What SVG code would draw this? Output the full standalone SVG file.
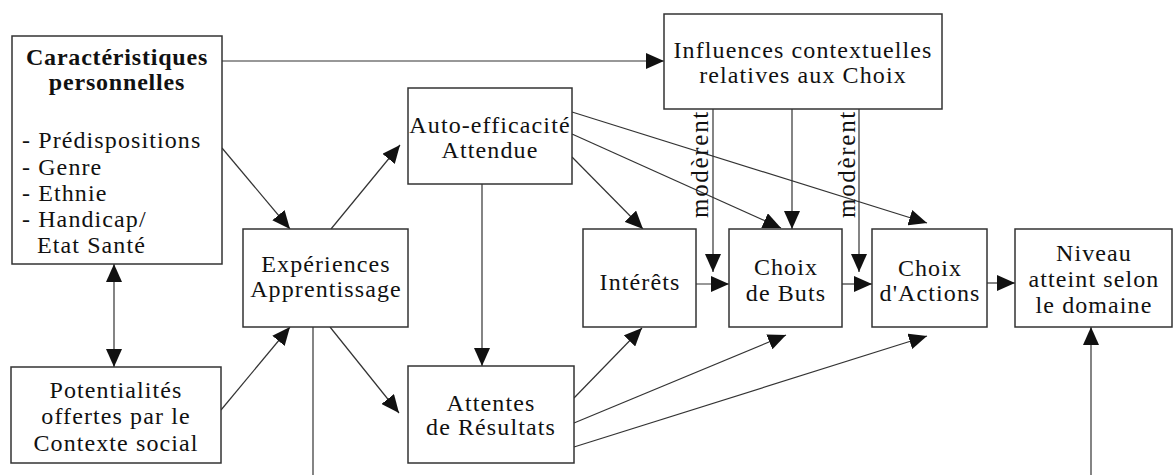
<svg xmlns="http://www.w3.org/2000/svg" width="1174" height="475" viewBox="0 0 1174 475">
<defs>
<marker id="ah" markerUnits="userSpaceOnUse" markerWidth="18" markerHeight="16" refX="18" refY="8" orient="auto">
<path d="M0,0 L18,8 L0,16 z" fill="#111"/>
</marker>
<marker id="ahs" markerUnits="userSpaceOnUse" markerWidth="18" markerHeight="16" refX="0" refY="8" orient="auto">
<path d="M18,0 L0,8 L18,16 z" fill="#111"/>
</marker>
<style>
.box{fill:#fff;stroke:#333;stroke-width:1.5}
.t{font-family:"Liberation Serif",serif;font-size:24px;letter-spacing:1.1px;fill:#111;text-anchor:middle}
.tl{font-family:"Liberation Serif",serif;font-size:24px;letter-spacing:1.1px;fill:#111}
.m{font-family:"Liberation Serif",serif;font-size:25px;letter-spacing:1.7px;fill:#111}
.b{font-weight:bold;letter-spacing:0.8px}
.c{stroke:#333;stroke-width:1.2;fill:none;marker-end:url(#ah)}
.n{stroke:#333;stroke-width:1.2;fill:none}
</style>
</defs>
<rect width="1174" height="475" fill="#fff"/>
<g id="connectors">
<line class="c" x1="222" y1="61" x2="664" y2="61"/>
<line class="c" x1="222" y1="148" x2="290" y2="229"/>
<line class="c" x1="331" y1="229" x2="400" y2="145"/>
<line class="c" x1="221" y1="410" x2="290" y2="327"/>
<line class="c" x1="330" y1="327" x2="399" y2="413"/>
<line class="n" x1="313" y1="327" x2="313" y2="475"/>
<line class="c" x1="1091" y1="475" x2="1091" y2="327"/>
<line class="c" x1="482" y1="184" x2="482" y2="366"/>
<line class="c" x1="114" y1="264" x2="114" y2="367" style="marker-start:url(#ahs)"/>
<line class="c" x1="572" y1="157" x2="643" y2="229"/>
<line class="c" x1="572" y1="134" x2="781" y2="228"/>
<line class="c" x1="572" y1="112" x2="927" y2="223"/>
<line class="c" x1="574" y1="398" x2="642" y2="328"/>
<line class="c" x1="574" y1="423" x2="786" y2="335"/>
<line class="c" x1="574" y1="447" x2="927" y2="336"/>
<line class="c" x1="792" y1="109" x2="792" y2="229"/>
<line class="c" x1="713" y1="109" x2="713" y2="272"/>
<line class="c" x1="859" y1="109" x2="859" y2="272"/>
<line class="c" x1="696" y1="284" x2="729" y2="284"/>
<line class="c" x1="842" y1="284" x2="872" y2="284"/>
<line class="c" x1="987" y1="283" x2="1015" y2="283"/>
<text class="m" transform="translate(708,218) rotate(-90)">modèrent</text>
<text class="m" transform="translate(855,218) rotate(-90)">modèrent</text>
</g>
<g id="caracteristiques">
<rect class="box" x="12" y="36" width="210" height="228"/>
<text class="t b" x="117" y="65">Caractéristiques</text>
<text class="t b" x="117" y="90">personnelles</text>
<text class="tl" x="22" y="148">- Prédispositions</text>
<text class="tl" x="22" y="175">- Genre</text>
<text class="tl" x="22" y="201">- Ethnie</text>
<text class="tl" x="22" y="227">- Handicap/</text>
<text class="tl" x="37" y="253">Etat Santé</text>
</g>
<g id="potentialites">
<rect class="box" x="11" y="367" width="210" height="96"/>
<text class="t" x="116" y="398">Potentialités</text>
<text class="t" x="116" y="424">offertes par le</text>
<text class="t" x="116" y="451">Contexte social</text>
</g>
<g id="experiences">
<rect class="box" x="243" y="229" width="165" height="98"/>
<text class="t" x="326" y="272">Expériences</text>
<text class="t" x="326" y="297">Apprentissage</text>
</g>
<g id="autoefficacite">
<rect class="box" x="408" y="88" width="164" height="96"/>
<text class="t" x="490" y="133">Auto-efficacité</text>
<text class="t" x="490" y="158">Attendue</text>
</g>
<g id="attentes">
<rect class="box" x="408" y="366" width="166" height="97"/>
<text class="t" x="491" y="411">Attentes</text>
<text class="t" x="491" y="435">de Résultats</text>
</g>
<g id="influences">
<rect class="box" x="664" y="14" width="278" height="95"/>
<text class="t" x="803" y="58">Influences contextuelles</text>
<text class="t" x="803" y="83">relatives aux Choix</text>
</g>
<g id="interets">
<rect class="box" x="583" y="229" width="113" height="98"/>
<text class="t" x="640" y="290">Intérêts</text>
</g>
<g id="choixbuts">
<rect class="box" x="729" y="229" width="113" height="98"/>
<text class="t" x="786" y="275">Choix</text>
<text class="t" x="786" y="301">de Buts</text>
</g>
<g id="choixactions">
<rect class="box" x="872" y="229" width="115" height="98"/>
<text class="t" x="930" y="276">Choix</text>
<text class="t" x="930" y="301">d'Actions</text>
</g>
<g id="niveau">
<rect class="box" x="1015" y="229" width="157" height="98"/>
<text class="t" x="1094" y="261">Niveau</text>
<text class="t" x="1094" y="287">atteint selon</text>
<text class="t" x="1094" y="313">le domaine</text>
</g>
</svg>
